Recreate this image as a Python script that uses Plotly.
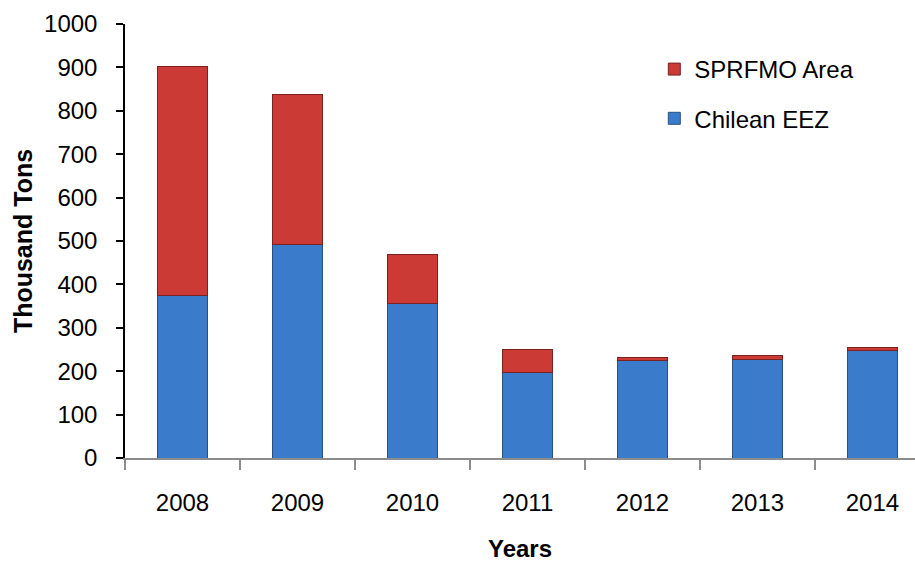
import plotly.graph_objects as go

# Catch by area, thousand tons
years = ["2008", "2009", "2010", "2011", "2012", "2013", "2014"]
chilean_eez = [375, 492, 356, 196, 224, 228, 247]
sprfmo_area = [528, 346, 114, 55, 7, 9, 7]

y_ticks = list(range(0, 1001, 100))

font_family = "Arial, Liberation Sans, sans-serif"

fig = go.Figure()
fig.add_trace(go.Bar(
    x=years, y=chilean_eez, name="Chilean EEZ",
    marker=dict(color="#3B7BCC", line=dict(color="#2A4F80", width=1)),
    width=0.43, legendgroup="b", legendrank=2,
))
fig.add_trace(go.Bar(
    x=years, y=sprfmo_area, name="SPRFMO Area",
    marker=dict(color="#CC3A35", line=dict(color="#7A2220", width=1)),
    width=0.43, legendgroup="a", legendrank=1,
))

fig.update_layout(
    barmode="stack",
    width=915, height=562,
    margin=dict(l=125, r=0, t=24, b=104),
    paper_bgcolor="white", plot_bgcolor="white",
    font=dict(family=font_family, size=24, color="#000000"),
    showlegend=True,
    legend=dict(
        x=0.670, y=0.947, xanchor="left", yanchor="top",
        traceorder="grouped", tracegroupgap=15,
        font=dict(size=24), bgcolor="rgba(0,0,0,0)",
        itemwidth=30,
    ),
    xaxis=dict(
        type="category", range=[-0.5, 6.37],
        showline=True, linecolor="#8C8C8C", linewidth=1.5,
        ticks="outside", tickson="boundaries", ticklen=10, tickcolor="#8C8C8C",
        tickwidth=1.5,
        ticklabelstandoff=22,
        tickfont=dict(size=24),
        title=dict(text="<b>Years</b>", font=dict(size=24), standoff=28),
        showgrid=False, zeroline=False,
    ),
    yaxis=dict(
        range=[0, 1000], tickvals=y_ticks,
        showline=True, linecolor="#000000", linewidth=1.5,
        ticks="outside", ticklen=7, tickcolor="#000000", tickwidth=1.5,
        ticklabelstandoff=14,
        tickfont=dict(size=24),
        title=dict(text="<b>Thousand Tons</b>", font=dict(size=25), standoff=4),
        showgrid=False, zeroline=False,
    ),
)

fig.write_html("out.html")
